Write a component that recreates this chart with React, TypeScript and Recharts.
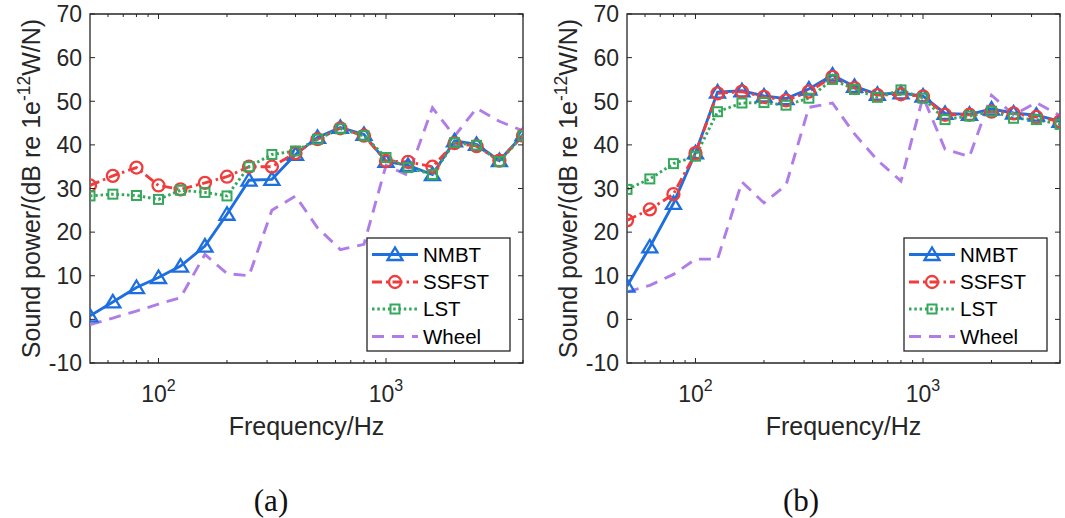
import React from 'react';
import { LineChart, Line, XAxis, YAxis, ReferenceArea } from 'recharts';

// ---------- data ----------
const FREQS = [50, 63, 80, 100, 125, 160, 200, 250, 315, 400, 500, 630, 800, 1000, 1250, 1600, 2000, 2500, 3150, 4000];

const NMBT_A = [0.8, 4.0, 7.3, 9.6, 12.2, 16.8, 24.1, 31.9, 32.1, 37.8, 41.7, 44.0, 42.4, 36.2, 35.3, 33.2, 40.9, 40.1, 36.4, 42.3];
const SSFST_A = [30.7, 32.9, 34.8, 30.7, 29.8, 31.3, 32.7, 35.0, 35.0, 38.1, 41.3, 43.8, 42.1, 36.3, 36.1, 35.0, 40.4, 39.7, 36.4, 42.1];
const LST_A = [28.3, 28.7, 28.4, 27.5, 29.6, 29.1, 28.3, 35.0, 37.8, 38.6, 41.3, 43.7, 42.1, 37.1, 34.8, 33.2, 40.5, 39.9, 36.2, 42.1];
const WHEEL_A = [-1.2, 0.3, 1.9, 3.5, 5.0, 14.9, 10.5, 10.0, 25.0, 28.3, 21.0, 16.0, 17.2, 35.3, 33.0, 48.5, 42.0, 48.4, 45.4, 43.2];

const NMBT_B = [7.6, 16.6, 26.6, 38.2, 52.1, 52.4, 51.2, 50.6, 52.8, 56.0, 53.4, 51.6, 51.9, 51.2, 47.2, 47.0, 48.2, 47.3, 46.8, 45.4];
const SSFST_B = [22.7, 25.2, 28.7, 38.1, 51.8, 52.2, 51.0, 50.2, 52.2, 55.6, 53.0, 51.4, 51.6, 51.1, 46.9, 46.9, 47.6, 47.2, 46.4, 45.4];
const LST_B = [29.8, 32.2, 35.7, 37.4, 47.6, 49.6, 49.7, 49.1, 50.7, 55.0, 52.7, 50.9, 52.6, 50.7, 45.8, 46.6, 47.7, 46.1, 45.8, 44.7];
const WHEEL_B = [6.3, 7.8, 10.3, 13.8, 13.8, 31.5, 26.7, 30.8, 48.6, 49.6, 42.5, 36.5, 31.7, 51.0, 39.0, 37.3, 51.4, 46.9, 49.7, 46.7];

const Y_TICKS = [-10, 0, 10, 20, 30, 40, 50, 60, 70];
const X_TICKS = [60, 70, 80, 90, 100, 200, 300, 400, 500, 600, 700, 800, 900, 1000, 2000, 3000, 4000];
const MAJOR_X = [100, 1000];
const X_DOMAIN = [50, 4000];
const Y_DOMAIN = [-10, 70];

const SERIES_NAMES = ['NMBT', 'SSFST', 'LST', 'Wheel'];
const X_LABEL = 'Frequency/Hz';
const Y_LABEL_PRE = 'Sound power/(dB re 1e';
const Y_LABEL_SUP = '-12';
const Y_LABEL_POST = 'W/N)';
const CAPTIONS = ['(a)', '(b)'];

// ---------- layout / style ----------
const CHART_W = 540;
const CHART_H = 450;
const PLOT_LEFT = 90;
const PLOT_RIGHT = 523;
const PLOT_TOP = 14;
const PLOT_BOTTOM = 363;
const PANEL_OFFSETS = [0, 537];
const AXIS_COLOR = '#262626';
const FONT = '"Liberation Sans", Arial, Helvetica, sans-serif';

const STYLES: Record<string, { color: string; dash?: string; marker: string; width: number }> = {
  NMBT: { color: '#1d6fe0', marker: 'triangle', width: 2.9 },
  SSFST: { color: '#f03c3c', dash: '10 4 2.5 4', marker: 'circle', width: 2.9 },
  LST: { color: '#35a85c', dash: '2.5 2.8', marker: 'square', width: 2.9 },
  Wheel: { color: '#b07ce8', dash: '12 8', marker: 'none', width: 2.9 },
};

function Marker({ kind, cx, cy, color }: { kind: string; cx: number; cy: number; color: string }) {
  if (kind === 'triangle') {
    return (
      <polygon
        points={`${cx},${cy - 7} ${cx - 7.5},${cy + 5.5} ${cx + 7.5},${cy + 5.5}`}
        fill="none"
        stroke={color}
        strokeWidth={2.3}
      />
    );
  }
  if (kind === 'circle') {
    return <circle cx={cx} cy={cy} r={6} fill="none" stroke={color} strokeWidth={2.3} />;
  }
  if (kind === 'square') {
    return <rect x={cx - 4.5} y={cy - 4.5} width={9} height={9} fill="none" stroke={color} strokeWidth={2} />;
  }
  return null;
}

function makeDot(name: string) {
  const st = STYLES[name];
  if (st.marker === 'none') return false as const;
  return (props: any) => {
    const { cx, cy, index } = props;
    if (cx == null || cy == null) return <g key={`${name}-${index}`} />;
    return (
      <g key={`${name}-${index}`}>
        <Marker kind={st.marker} cx={cx} cy={cy} color={st.color} />
      </g>
    );
  };
}

const XTick = (props: any) => {
  const { x, payload } = props;
  const v = payload.value;
  const major = MAJOR_X.includes(v);
  const len = major ? 5 : 3;
  return (
    <g>
      <line x1={x} x2={x} y1={PLOT_BOTTOM} y2={PLOT_BOTTOM - len} stroke={AXIS_COLOR} strokeWidth={1} />
      <line x1={x} x2={x} y1={PLOT_TOP} y2={PLOT_TOP + len} stroke={AXIS_COLOR} strokeWidth={1} />
      {major && (
        <text x={x} y={402} textAnchor="middle" fontSize={23} fill={AXIS_COLOR} fontFamily={FONT}>
          10
          <tspan dy={-11} fontSize={16}>
            {Math.round(Math.log10(v))}
          </tspan>
        </text>
      )}
    </g>
  );
};

const YTick = (props: any) => {
  const { y, payload } = props;
  return (
    <g>
      <text x={PLOT_LEFT - 8} y={y} dy="0.36em" textAnchor="end" fontSize={23} fill={AXIS_COLOR} fontFamily={FONT}>
        {payload.value}
      </text>
      <line x1={PLOT_LEFT} x2={PLOT_LEFT + 5} y1={y} y2={y} stroke={AXIS_COLOR} strokeWidth={1} />
      <line x1={PLOT_RIGHT - 5} x2={PLOT_RIGHT} y1={y} y2={y} stroke={AXIS_COLOR} strokeWidth={1} />
    </g>
  );
};

function Panel({ series, left }: { series: number[][]; left: number }) {
  const data = FREQS.map((f, i) => ({
    f,
    NMBT: series[0][i],
    SSFST: series[1][i],
    LST: series[2][i],
    Wheel: series[3][i],
  }));
  return (
    <div style={{ position: 'absolute', left, top: 0, width: CHART_W, height: CHART_H }}>
      <LineChart width={CHART_W} height={CHART_H} data={data} margin={{ top: PLOT_TOP, right: CHART_W - PLOT_RIGHT, bottom: 0, left: 0 }}>
        <XAxis
          dataKey="f"
          type="number"
          scale="log"
          domain={X_DOMAIN}
          allowDataOverflow
          ticks={X_TICKS}
          interval={0}
          tick={XTick}
          tickLine={false}
          axisLine={false}
          height={CHART_H - PLOT_BOTTOM}
        />
        <YAxis
          type="number"
          domain={Y_DOMAIN}
          allowDataOverflow
          ticks={Y_TICKS}
          interval={0}
          tick={YTick}
          tickLine={false}
          axisLine={false}
          width={PLOT_LEFT}
        />
        {SERIES_NAMES.map((name) => (
          <Line
            key={name}
            dataKey={name}
            type="linear"
            stroke={STYLES[name].color}
            strokeWidth={STYLES[name].width}
            strokeDasharray={STYLES[name].dash}
            dot={makeDot(name)}
            activeDot={false}
            isAnimationActive={false}
          />
        ))}
        <ReferenceArea
          x1={X_DOMAIN[0]}
          x2={X_DOMAIN[1]}
          y1={Y_DOMAIN[0]}
          y2={Y_DOMAIN[1]}
          fill="none"
          fillOpacity={0}
          stroke={AXIS_COLOR}
          strokeWidth={1.3}
          ifOverflow="visible"
        />
      </LineChart>
    </div>
  );
}

function LegendBox({ x, y }: { x: number; y: number }) {
  const w = 143;
  const h = 113;
  const rowY = [16.5, 44, 71, 98.5];
  return (
    <g>
      <rect x={x} y={y} width={w} height={h} fill="#fff" stroke={AXIS_COLOR} strokeWidth={1.3} />
      {SERIES_NAMES.map((name, i) => {
        const st = STYLES[name];
        const cy = y + rowY[i];
        return (
          <g key={name}>
            <line x1={x + 5} x2={x + 51} y1={cy} y2={cy} stroke={st.color} strokeWidth={st.width} strokeDasharray={st.dash} />
            <Marker kind={st.marker} cx={x + 28} cy={cy} color={st.color} />
            <text x={x + 56} y={cy} dy="0.36em" fontSize={20.5} fill="#000" fontFamily={FONT}>
              {name}
            </text>
          </g>
        );
      })}
    </g>
  );
}

export default function App() {
  const panels = [
    [NMBT_A, SSFST_A, LST_A, WHEEL_A],
    [NMBT_B, SSFST_B, LST_B, WHEEL_B],
  ];
  return (
    <div style={{ position: 'absolute', left: 0, top: 0, width: 1065, height: 518, background: '#fff', overflow: 'hidden' }}>
      {panels.map((s, i) => (
        <Panel key={i} series={s} left={PANEL_OFFSETS[i]} />
      ))}
      <svg width={1065} height={518} style={{ position: 'absolute', left: 0, top: 0, pointerEvents: 'none' }}>
        {PANEL_OFFSETS.map((off, i) => {
          const cy = (PLOT_TOP + PLOT_BOTTOM) / 2;
          const lx = off + 39.5;
          const cx = off + (PLOT_LEFT + PLOT_RIGHT) / 2;
          return (
            <g key={i}>
              <text
                x={lx}
                y={cy}
                transform={`rotate(-90, ${lx}, ${cy})`}
                textAnchor="middle"
                fontSize={25}
                fill={AXIS_COLOR}
                fontFamily={FONT}
              >
                {Y_LABEL_PRE}
                <tspan dy={-10} fontSize={17.5}>
                  {Y_LABEL_SUP}
                </tspan>
                <tspan dy={10}>{Y_LABEL_POST}</tspan>
              </text>
              <text x={cx} y={435} textAnchor="middle" fontSize={25} fill={AXIS_COLOR} fontFamily={FONT}>
                {X_LABEL}
              </text>
              <LegendBox x={off + 367} y={238} />
              <text
                x={i === 0 ? 271 : 801}
                y={511}
                textAnchor="middle"
                fontSize={31}
                fill="#111"
                fontFamily='"Liberation Serif", "Times New Roman", serif'
              >
                {CAPTIONS[i]}
              </text>
            </g>
          );
        })}
      </svg>
    </div>
  );
}
